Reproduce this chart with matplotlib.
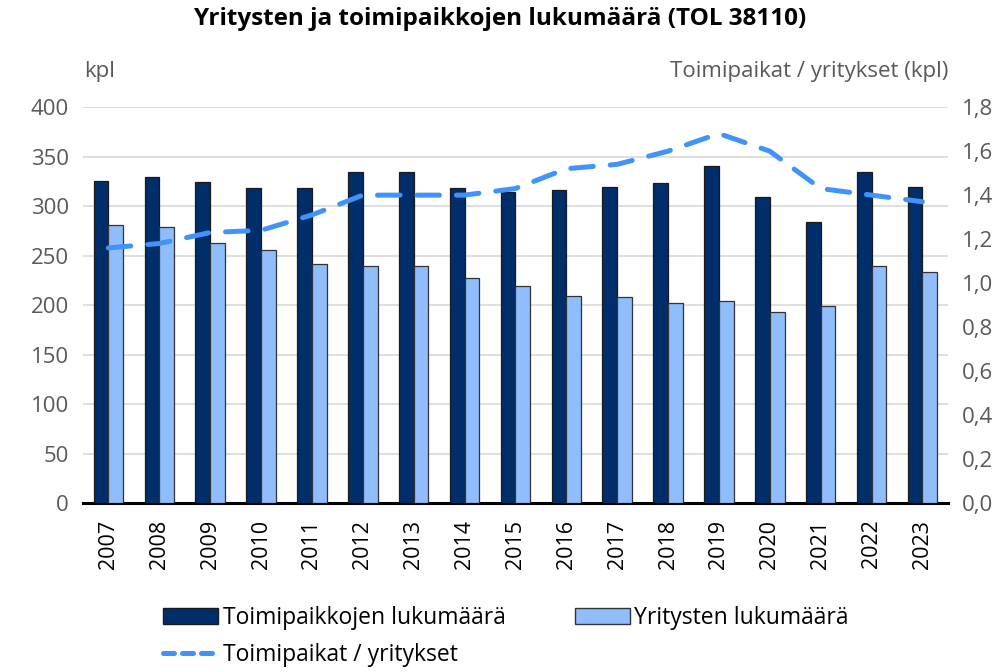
import matplotlib
matplotlib.use("Agg")
import matplotlib.pyplot as plt
import matplotlib.patches as mpatches
from matplotlib.lines import Line2D
from matplotlib.ticker import FuncFormatter
import numpy as np

# ── Data ─────────────────────────────────────────────
years = [str(y) for y in range(2007, 2024)]
toimipaikat = [325, 329, 324, 318, 318, 335, 335, 318, 314, 316,
               319, 323, 341, 309, 284, 335, 319]
yritykset = [281, 279, 263, 256, 242, 239, 239, 227, 219, 209,
             208, 202, 204, 193, 199, 240, 233]
suhde = [1.16, 1.18, 1.23, 1.24, 1.31, 1.40, 1.40, 1.40, 1.43, 1.52,
         1.54, 1.60, 1.68, 1.60, 1.43, 1.40, 1.37]

DARK = "#002e6b"
LIGHT = "#8fbdfd"
LINE = "#4193f7"
GREY = "#595959"
FONT = "Open Sans"

plt.rcParams["font.family"] = [FONT, "DejaVu Sans"]

fig = plt.figure(figsize=(10.08, 6.72), dpi=100)
ax = fig.add_axes([0.0823, 0.2515, 0.858, 0.589])
ax2 = ax.twinx()

x = np.arange(len(years))
w = 0.29
ax.bar(x - w / 2, toimipaikat, width=w, color=DARK, edgecolor="#1a1a1a",
       linewidth=0.9, zorder=3)
ax.bar(x + w / 2, yritykset, width=w, color=LIGHT, edgecolor="#333333",
       linewidth=0.9, zorder=3)

ax2.plot(x, suhde, color=LINE, lw=3.6, linestyle=(0, (4.5, 3.4)),
         dash_capstyle="round", zorder=4)

ax.set_xlim(-0.5, len(years) - 0.5)
ax.set_ylim(0, 400)
ax.set_yticks(range(0, 401, 50))
ax2.set_ylim(0, 1.8)
ax2.set_yticks(np.arange(0, 1.81, 0.2))
ax2.yaxis.set_major_formatter(FuncFormatter(lambda v, p: f"{v:.1f}".replace(".", ",")))

ax.grid(axis="y", color="#d9d9d9", linewidth=1.2, zorder=0)
ax.set_axisbelow(True)
for a in (ax, ax2):
    for s in ("top", "left", "right"):
        a.spines[s].set_visible(False)
    a.spines["bottom"].set_color("black")
    a.spines["bottom"].set_linewidth(2.2)
    a.tick_params(axis="y", length=0, labelsize=16, labelcolor=GREY, pad=10)
ax2.spines["bottom"].set_visible(False)

ax.set_xticks(x)
ax.set_xticklabels(years, rotation=90, fontsize=15.5, color="black")
ax.tick_params(axis="x", length=0, pad=12)

fig.text(0.496, 0.972, "Yritysten ja toimipaikkojen lukumäärä (TOL 38110)",
         ha="center", va="center", fontsize=17.5, fontweight="bold")
fig.text(0.083, 0.893, "kpl", ha="left", va="center", fontsize=16, color=GREY)
fig.text(0.941, 0.893, "Toimipaikat / yritykset (kpl)", ha="right", va="center",
         fontsize=16, color=GREY)

handles = [
    mpatches.Patch(facecolor=DARK, edgecolor="#1a1a1a", label="Toimipaikkojen lukumäärä"),
    Line2D([], [], color=LINE, lw=3.6, linestyle=(0, (2.2, 1.6)),
           dash_capstyle="round", label="Toimipaikat / yritykset"),
    mpatches.Patch(facecolor=LIGHT, edgecolor="#333333", label="Yritysten lukumäärä"),
]
fig.legend(handles=handles, ncol=2, loc="upper left", bbox_to_anchor=(0.162, 0.098),
           frameon=False, fontsize=16.5, handlelength=2.4, handleheight=0.7,
           handletextpad=0.2, columnspacing=3.0, labelspacing=0.55,
           borderaxespad=0, borderpad=0)

fig.savefig("out.png", dpi=100)
